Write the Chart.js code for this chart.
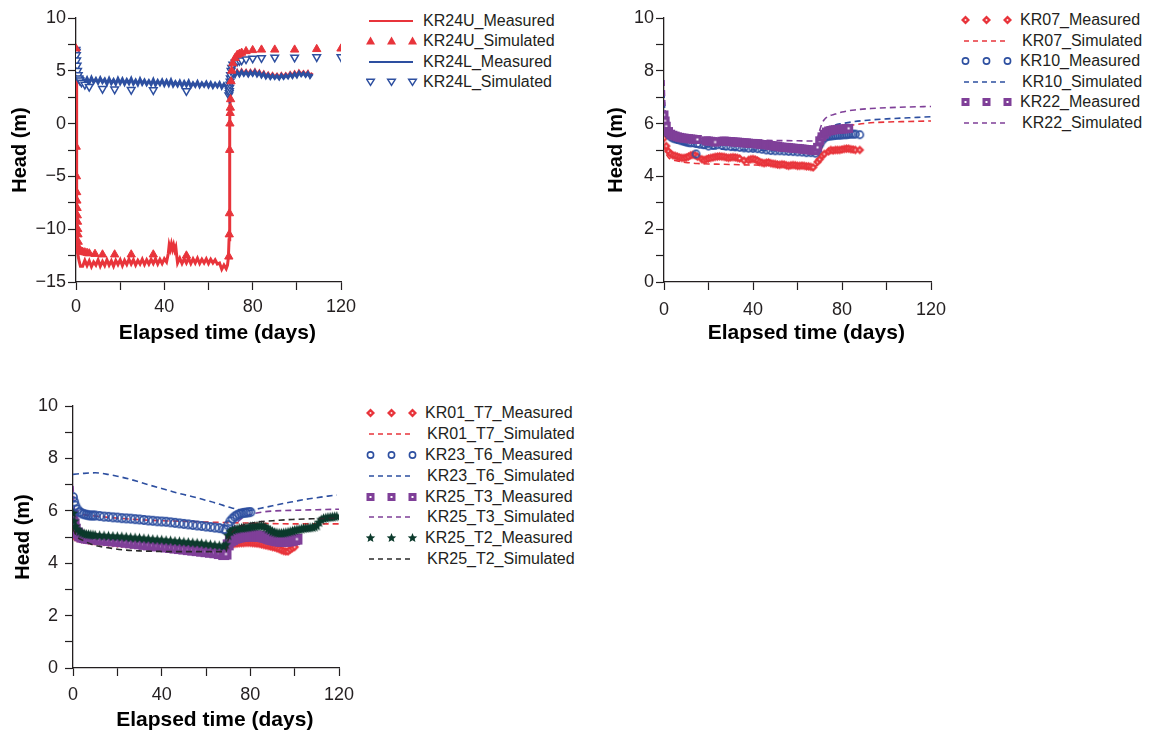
<!DOCTYPE html>
<html><head><meta charset="utf-8">
<script src="https://cdn.jsdelivr.net/npm/chart.js@4.4.1/dist/chart.umd.min.js"></script>
<style>
html,body{margin:0;padding:0;background:#fff;}
body{width:1152px;height:738px;overflow:hidden;position:relative;font-family:"Liberation Sans",Arial,sans-serif;}
canvas.ch{position:absolute;}
.row{position:absolute;height:20px;line-height:20px;white-space:nowrap;font-size:16px;color:#231f20;}
.row canvas{position:absolute;left:0;top:0;}
.row span{position:absolute;top:0;}
</style></head><body>
<canvas id="k1" class="ch" width="360" height="350" style="left:0;top:0"></canvas>
<canvas id="k2" class="ch" width="360" height="350" style="left:590px;top:0"></canvas>
<canvas id="k3" class="ch" width="360" height="350" style="left:0;top:388px"></canvas>
<div id="legends"></div>
<script>
// ---------------- DATA ----------------
const X_TITLE = 'Elapsed time (days)';
const Y_TITLE = 'Head (m)';
const xTicks = [0, 40, 80, 120];

// Panel 1 (KR24U / KR24L)
const kr24uMeasured = [[0,7.0],[0.15,6.2],[0.3,-4],[0.4,-11.0],[0.6,-12.0],[1,-12.6],[1.5,-13.1],[2,-13.5],
[3,-13.5],[4,-12.95],[5,-13.45],[6,-13.0],[7,-13.55],[8,-13.1],[9,-13.4],[10,-12.9],[11,-13.5],[12,-13.05],[13,-13.45],[14,-12.9],[15,-13.4],[16,-13.0],[17,-13.5],[18,-12.95],[19,-13.35],[20,-12.9],[21,-13.45],[22,-12.95],[23,-13.35],[24,-12.85],[25,-13.3],[26,-12.9],[27,-13.4],[28,-12.95],[29,-13.3],[30,-12.85],[31,-13.35],[32,-12.9],[33,-13.3],[34,-12.85],[35,-13.25],[36,-12.8],[37,-13.3],[38,-12.85],[39,-13.25],[40,-12.8],[41,-13.1],
[41.8,-12.3],[42.2,-11.5],[42.7,-11.9],[43.2,-11.4],[43.7,-11.9],[44.2,-11.5],[44.7,-12.0],[45.2,-11.7],[45.6,-12.5],
[46,-13.2],[47,-12.75],[48,-13.25],[49,-12.8],[50,-13.2],[51,-12.75],[52,-13.25],[53,-12.8],[54,-13.2],[55,-12.75],[56,-13.25],[57,-12.85],[58,-13.2],[59,-12.8],[60,-13.25],[61,-12.85],[62,-13.2],[63,-12.9],[64,-13.3],[65,-13.2],[66,-13.8],[67,-13.4],[68,-13.75],[68.6,-13.4],[69.0,-12.7],[69.3,-11.0],[69.5,-6],[69.7,0],[69.9,3.5],[70.2,4.7],
[71,5.0],[72,4.6],[73,5.0],[74,4.65],[75,5.05],[76,4.7],[77,5.0],[78,4.65],[79,5.0],[80,4.7],[81,5.05],[82,4.65],[83,4.95],[84,4.55],[85,4.85],[86,4.45],[87,4.75],[88,4.4],[89,4.7],[90,4.4],[91,4.65],[92,4.35],[93,4.7],[94,4.4],[95,4.7],[96,4.45],[97,4.8],[98,4.5],[99,4.85],[100,4.55],[101,4.95],[102,4.65],[103,4.9],[104,4.6],[105,4.9],[106,4.5],[107,4.8]];

const kr24uSimulated = [[0,7.1],[0.1,-2.2],[0.2,-5],[0.3,-6.5],[0.4,-7.3],[0.5,-8],[0.6,-8.7],[0.7,-9.3],[0.8,-10],[0.9,-10.5],[1.0,-11.2],[1.3,-11.8],[1.7,-12.0],[2.2,-12.1],[3,-12.15],[4,-12.2],[5,-12.25],[6,-12.3],[8.6,-12.35],[12,-12.4],[17.5,-12.4],[25,-12.4],[35,-12.4],[50,-12.5],[69.2,-12.6],[69.4,-10.5],[69.5,-8.5],[69.6,-2.5],[69.7,0],[69.8,1.0],[69.9,1.5],[70.0,2.3],[70.2,4.0],[70.5,5.0],[71,5.7],[72,6.2],[73,6.5],[74,6.6],[75,6.7],[77,6.85],[80,6.95],[84,7.0],[90,7.0],[99,7.0],[109,7.05],[120,7.1]];

const kr24lMeasured = [[0,7.0],[0.2,6.9],[0.4,6.5],[0.6,5.8],[0.8,5.3],[1,5.0],[1.5,4.6],[2,4.3],
[3,4.35],[4,3.9],[5,4.3],[6,3.85],[7,4.35],[8,3.9],[9,4.25],[10,3.85],[11,4.3],[12,3.9],[13,4.2],[14,3.75],[15,4.25],[16,3.8],[17,4.15],[18,3.75],[19,4.25],[20,3.8],[21,4.2],[22,3.75],[23,4.15],[24,3.8],[25,4.25],[26,3.75],[27,4.1],[28,3.7],[29,4.2],[30,3.75],[31,4.1],[32,3.7],[33,4.05],[34,3.7],[35,4.15],[36,3.65],[37,4.05],[38,3.7],[39,4.1],[40,3.65],[41,4.05],[42,3.65],[43,4.1],[44,3.6],[45,3.95],[46,3.6],[47,4.0],[48,3.55],[49,3.95],[50,3.6],[51,4.0],[52,3.5],[53,3.85],[54,3.55],[55,3.95],[56,3.5],[57,3.85],[58,3.55],[59,3.9],[60,3.5],[61,3.85],[62,3.45],[63,3.8],[64,3.5],[65,3.85],[66,3.4],[67,3.75],[68,3.45],[68.8,3.1],[69.2,2.6],[69.5,2.3],[69.8,3.0],[70,3.9],[70.3,4.4],
[71,4.8],[72,4.5],[73,4.9],[74,4.55],[75,4.95],[76,4.6],[77,4.9],[78,4.55],[79,4.9],[80,4.6],[81,4.95],[82,4.55],[83,4.85],[84,4.45],[85,4.75],[86,4.35],[87,4.65],[88,4.3],[89,4.6],[90,4.3],[91,4.55],[92,4.25],[93,4.6],[94,4.3],[95,4.6],[96,4.35],[97,4.7],[98,4.4],[99,4.75],[100,4.45],[101,4.85],[102,4.55],[103,4.8],[104,4.5],[105,4.8],[106,4.4],[107,4.7]];

const kr24lSimulated = [[0,7.0],[0.1,6.8],[0.2,6.5],[0.3,6.0],[0.5,5.5],[0.7,5.0],[1.0,4.6],[1.3,4.3],[1.7,4.1],[2.5,3.9],[4,3.7],[6,3.5],[12,3.3],[17.5,3.25],[25,3.2],[35,3.18],[50,3.1],[69.2,2.7],[69.4,2.9],[69.5,3.1],[69.6,3.4],[69.7,3.7],[69.8,4.0],[69.9,4.3],[70.0,4.6],[70.2,5.0],[70.5,5.3],[71,5.6],[72,5.8],[73,5.9],[74,5.95],[75,6.0],[77,6.1],[80,6.18],[84,6.22],[90,6.27],[99,6.27],[109,6.3],[120,6.3]];

// Panel 2 (KR07 / KR10 / KR22)
const kr07Measured = [[0,5.45],[1,5.15],[2,4.95],[3,4.85],[4,4.8],[5,4.78],[6,4.75],[7,4.72],[8,4.7],[9,4.7],[10,4.72],[11,4.75],[12,4.8],[13,4.82],[14,4.8],[15,4.75],[17,4.65],[18,4.62],[19,4.65],[20,4.68],[21,4.7],[22,4.72],[23,4.74],[24,4.75],[25,4.76],[26,4.75],[27,4.74],[28,4.72],[29,4.7],[30,4.72],[31,4.73],[32,4.72],[33,4.7],[34,4.68],[36,4.6],[38,4.62],[39,4.65],[40,4.66],[41,4.64],[42,4.6],[43,4.55],[44,4.52],[45,4.5],[46,4.52],[47,4.53],[48,4.5],[49,4.48],[50,4.47],[51,4.45],[52,4.44],[53,4.46],[54,4.45],[55,4.42],[56,4.4],[57,4.42],[58,4.43],[59,4.42],[60,4.4],[61,4.4],[62,4.41],[63,4.4],[64,4.38],[65,4.38],[66,4.36],[67,4.34],[69,4.55],[70,4.65],[71,4.78],[72,4.85],[74,4.95],[75,5.0],[76,4.98],[77,5.0],[78,5.0],[79,5.0],[80,5.02],[81,5.04],[82,5.05],[83,5.05],[84,5.03],[85,5.02],[86,5.0],[88,5.0]];
const kr07Simulated = [[0,5.2],[0.5,5.0],[1,4.85],[2,4.72],[3,4.65],[5,4.6],[8,4.55],[11,4.52],[15,4.49],[20,4.47],[26,4.46],[35,4.44],[41,4.43],[50,4.42],[60,4.4],[65,4.39],[68,4.39],[69,4.45],[70,4.7],[71,5.1],[72,5.4],[73.6,5.63],[76,5.78],[80,5.88],[85,5.95],[93,6.03],[100,6.06],[110,6.08],[120,6.1]];
const kr10Measured = [[0,6.15],[0.5,6.0],[1,5.76],[2,5.6],[3,5.5],[4,5.45],[5,5.42],[6,5.4],[7,5.38],[8,5.35],[9,5.33],[10,5.3],[11,5.28],[12,5.27],[14.4,4.85],[15,5.25],[16,5.22],[18,5.2],[19.8,5.25],[20,5.15],[22,5.18],[24,5.2],[26,5.18],[28,5.15],[30,5.13],[32,5.12],[34,5.1],[36,5.08],[38,5.07],[40,5.06],[42,5.05],[44,5.03],[46,5.0],[48,4.98],[50,4.97],[52,4.97],[54,4.96],[56,4.95],[58,4.94],[60,4.93],[62,4.92],[64,4.9],[66,4.9],[68,4.88],[69,5.0],[70,5.2],[71,5.35],[72,5.45],[73,5.5],[74,5.52],[75,5.53],[76,5.54],[77,5.55],[78,5.56],[79,5.56],[80,5.57],[81,5.58],[82,5.58],[83,5.59],[84,5.6],[85,5.6],[86,5.6],[88,5.58]];
const kr10Simulated = [[0,7.2],[0.3,6.6],[0.6,6.1],[1,5.8],[2,5.55],[3,5.42],[5,5.3],[8,5.22],[11,5.18],[15,5.1],[20,5.06],[26,5.03],[35,5.0],[41,5.0],[50,4.97],[60,4.95],[65,4.94],[68,4.93],[69,5.0],[70,5.3],[71,5.55],[72,5.7],[74,5.83],[77,5.95],[80,6.0],[85,6.07],[93,6.14],[100,6.18],[110,6.22],[120,6.26]];
const kr22Measured = [[0,6.33],[0.5,6.1],[1,5.9],[2,5.7],[3,5.6],[4,5.56],[5,5.53],[6,5.5],[7,5.48],[8,5.46],[9,5.45],[10,5.44],[11,5.43],[12,5.42],[13,5.41],[14,5.4],[15,5.4],[19,5.35],[20,5.34],[21,5.33],[22,5.32],[23,5.3],[26,5.33],[27,5.34],[28,5.33],[29,5.32],[30,5.32],[31,5.31],[32,5.3],[33,5.3],[34,5.29],[35,5.28],[36,5.27],[37,5.27],[38,5.26],[39,5.25],[40,5.25],[41,5.24],[42,5.23],[43,5.22],[44,5.21],[45,5.2],[46,5.2],[47,5.19],[48,5.17],[49,5.16],[50,5.15],[51,5.14],[52,5.12],[53,5.11],[54,5.1],[55,5.1],[56,5.09],[57,5.08],[58,5.07],[59,5.06],[60,5.06],[61,5.05],[62,5.04],[63,5.03],[64,5.02],[65,5.01],[66,5.0],[67,4.99],[68,4.98],[69,5.1],[70,5.35],[71,5.5],[72,5.6],[73,5.68],[74,5.72],[75,5.74],[76,5.76],[77,5.77],[78,5.78],[79,5.79],[80,5.8],[81,5.8],[82,5.81],[83,5.82]];
const kr22Simulated = [[0,7.65],[0.3,6.9],[0.6,6.3],[1,6.0],[2,5.8],[3,5.7],[5,5.6],[8,5.52],[11,5.47],[15,5.44],[20,5.42],[30,5.4],[41,5.38],[50,5.36],[60,5.35],[65,5.34],[68,5.34],[69,5.45],[70,5.75],[71,6.0],[72,6.15],[74,6.28],[77,6.36],[80,6.44],[86,6.52],[93,6.57],[100,6.6],[110,6.63],[120,6.65]];

// Panel 3 (KR01_T7 / KR23_T6 / KR25_T3 / KR25_T2)
const kr01t7Measured = [[0,5.05],[1,5.0],[2,4.97],[3,4.95],[4,4.93],[5,4.92],[6,4.9],[7,4.88],[8,4.87],[9,4.86],[10,4.85],[12,4.83],[14,4.82],[16,4.8],[18,4.78],[20,4.76],[22,4.75],[24,4.74],[26,4.73],[28,4.72],[30,4.71],[32,4.7],[34,4.69],[36,4.68],[38,4.67],[40,4.66],[42,4.65],[44,4.64],[46,4.63],[48,4.62],[50,4.61],[52,4.6],[54,4.59],[56,4.58],[58,4.57],[60,4.56],[62,4.55],[64,4.54],[66,4.52],[68,4.5],[69,4.55],[70,4.62],[71,4.68],[72,4.72],[73,4.74],[74,4.75],[75,4.76],[76,4.77],[77,4.77],[78,4.78],[79,4.78],[80,4.78],[81,4.77],[82,4.76],[83,4.75],[84,4.74],[85,4.72],[86,4.7],[87,4.68],[88,4.66],[89,4.64],[90,4.62],[91,4.6],[92,4.57],[93,4.54],[94,4.5],[95,4.47],[96,4.45],[97,4.45],[98,4.52],[99,4.58],[100,4.62]];
const kr01t7Simulated = [[0,5.9],[10,5.8],[20,5.72],[30,5.66],[40,5.62],[50,5.6],[60,5.57],[70,5.55],[80,5.53],[90,5.51],[100,5.5],[110,5.5],[120,5.5]];
const kr23t6Measured = [[0,6.52],[0.5,6.35],[1,6.2],[2,6.05],[3,5.95],[4,5.9],[5,5.87],[6,5.85],[7,5.83],[8,5.82],[9,5.82],[10,5.82],[12,5.8],[14,5.78],[16,5.77],[18,5.75],[20,5.74],[22,5.72],[24,5.71],[26,5.7],[28,5.68],[30,5.67],[32,5.65],[34,5.63],[36,5.62],[38,5.6],[40,5.59],[42,5.58],[44,5.56],[46,5.54],[48,5.52],[50,5.5],[52,5.48],[54,5.46],[56,5.44],[58,5.42],[60,5.4],[62,5.38],[64,5.36],[66,5.34],[68,5.3],[69,5.28],[70,5.45],[71,5.6],[72,5.7],[73,5.78],[74,5.83],[75,5.87],[76,5.9],[77,5.92],[78,5.93],[79,5.94],[80,5.95]];
const kr23t6Simulated = [[0,7.39],[5,7.43],[10,7.45],[15,7.4],[20,7.32],[25,7.22],[30,7.1],[35,6.97],[40,6.85],[45,6.73],[50,6.62],[55,6.52],[60,6.4],[65,6.28],[69,6.17],[72,6.1],[75,6.04],[78,5.99],[82,6.05],[86,6.12],[90,6.19],[95,6.28],[100,6.36],[105,6.44],[110,6.5],[115,6.56],[119,6.6]];
const kr25t3Measured = [[0,5.85],[0.5,5.5],[1,5.3],[2,5.15],[3,5.05],[4,5.0],[5,4.98],[6,4.96],[7,4.95],[8,4.94],[9,4.93],[10,4.92],[12,4.9],[14,4.88],[16,4.87],[18,4.85],[20,4.84],[22,4.82],[24,4.8],[26,4.78],[28,4.76],[30,4.74],[32,4.72],[34,4.7],[36,4.68],[38,4.66],[40,4.64],[42,4.62],[44,4.6],[46,4.58],[48,4.56],[50,4.54],[52,4.52],[54,4.5],[56,4.48],[58,4.46],[60,4.44],[62,4.42],[64,4.4],[66,4.37],[68,4.33],[69,4.35],[70,4.7],[71,4.85],[72,4.9],[73,4.95],[74,4.98],[75,5.0],[76,5.02],[77,5.03],[78,5.04],[79,5.05],[80,5.05],[81,5.05],[82,5.04],[83,5.04],[84,5.03],[85,5.02],[86,5.0],[87,4.98],[88,4.95],[89,4.92],[90,4.9],[91,4.88],[92,4.86],[93,4.85],[94,4.84],[95,4.84],[96,4.84],[97,4.85],[98,4.86],[99,4.88],[100,4.9],[101,4.92]];
const kr25t3Simulated = [[0,6.95],[0.5,6.2],[1,5.6],[2,5.2],[3,5.05],[5,4.95],[10,4.9],[20,4.82],[30,4.74],[40,4.66],[50,4.58],[60,4.5],[68,4.45],[69,4.5],[70,4.9],[72,5.3],[74,5.55],[76,5.7],[78,5.8],[82,5.9],[86,5.96],[90,5.99],[100,6.02],[110,6.04],[120,6.06]];
const kr25t2Measured = [[0,5.9],[0.5,5.6],[1,5.4],[2,5.28],[3,5.2],[4,5.15],[5,5.12],[6,5.1],[7,5.09],[8,5.08],[9,5.07],[10,5.06],[12,5.05],[14,5.04],[16,5.03],[18,5.02],[20,5.01],[22,5.0],[24,4.99],[26,4.97],[28,4.96],[30,4.95],[32,4.93],[34,4.92],[36,4.9],[38,4.89],[40,4.88],[42,4.86],[44,4.85],[46,4.83],[48,4.82],[50,4.8],[52,4.79],[54,4.77],[56,4.76],[58,4.74],[60,4.72],[62,4.7],[64,4.68],[66,4.66],[68,4.64],[69,4.7],[70,5.05],[71,5.2],[72,5.25],[73,5.28],[74,5.3],[75,5.32],[76,5.33],[77,5.34],[78,5.35],[79,5.36],[80,5.38],[81,5.39],[82,5.4],[83,5.41],[84,5.42],[85,5.42],[86,5.4],[87,5.36],[88,5.3],[89,5.25],[90,5.2],[91,5.17],[92,5.15],[93,5.14],[94,5.14],[95,5.15],[96,5.16],[97,5.18],[98,5.2],[99,5.22],[100,5.25],[101,5.27],[102,5.28],[103,5.3],[104,5.32],[105,5.33],[106,5.34],[107,5.35],[108,5.36],[109,5.38],[110,5.42],[111,5.55],[112,5.65],[113,5.7],[114,5.72],[115,5.74],[116,5.75],[117,5.76],[118,5.77],[119,5.78]];
const kr25t2Simulated = [[0,5.3],[2,5.0],[5,4.85],[9,4.7],[15,4.6],[24,4.5],[30,4.47],[39,4.45],[50,4.44],[60,4.44],[69,4.44],[70,4.9],[72,5.2],[75,5.4],[80,5.52],[84,5.58],[90,5.62],[99,5.67],[110,5.7],[120,5.72]];

// ---------------- STYLE ----------------
const FONT = '"Liberation Sans", Arial, sans-serif';
const RED = '#e8343b', BLUE = '#2d4fa0', PURPLE = '#7f3f98', GREEN = '#0c3a2c', BLACK = '#2a2a2a';
const AXIS = '#231f20';

function drawMarker(g, kind, color, cx, cy, s) {
  const r = s / 2;
  g.save();
  g.fillStyle = color; g.strokeStyle = color;
  if (kind === 'diamond') {
    g.beginPath(); g.moveTo(cx, cy - r); g.lineTo(cx + r, cy); g.lineTo(cx, cy + r); g.lineTo(cx - r, cy); g.closePath(); g.fill();
    g.fillStyle = '#fff'; g.fillRect(cx - 0.8, cy - 0.8, 1.6, 1.6);
  } else if (kind === 'square') {
    g.fillRect(cx - r, cy - r, s, s);
    g.fillStyle = '#fff'; g.fillRect(cx - 1, cy - 1, 2, 2);
  } else if (kind === 'circle') {
    g.lineWidth = 1.6; g.beginPath(); g.arc(cx, cy, r - 0.9, 0, Math.PI * 2); g.stroke();
  } else if (kind === 'star') {
    g.beginPath();
    for (let i = 0; i < 10; i++) {
      const a = -Math.PI / 2 + i * Math.PI / 5;
      const rr = i % 2 === 0 ? r : r * 0.45;
      const px = cx + rr * Math.cos(a), py = cy + rr * Math.sin(a);
      if (i === 0) g.moveTo(px, py); else g.lineTo(px, py);
    }
    g.closePath(); g.fill();
  } else if (kind === 'triUp') {
    g.beginPath(); g.moveTo(cx, cy - r); g.lineTo(cx + r, cy + r * 0.75); g.lineTo(cx - r, cy + r * 0.75); g.closePath(); g.fill();
  } else if (kind === 'triDown') {
    g.lineWidth = 1.5; g.fillStyle = '#fff';
    g.beginPath(); g.moveTo(cx - r + 0.7, cy - r * 0.6); g.lineTo(cx + r - 0.7, cy - r * 0.6); g.lineTo(cx, cy + r * 0.75); g.closePath(); g.fill(); g.stroke();
  }
  g.restore();
}
function markerCanvas(kind, color, s) {
  const c = document.createElement('canvas');
  c.width = s + 2; c.height = s + 2;
  drawMarker(c.getContext('2d'), kind, color, (s + 2) / 2, (s + 2) / 2, s);
  return c;
}
const pts = a => a.map(([x, y]) => ({x, y}));
const fmt = v => v < 0 ? '\u2212' + Math.abs(v) : String(v);

function lineDS(data, color, order) {
  return {data: pts(data), borderColor: color, borderWidth: 3, pointRadius: 0, tension: 0, order};
}
function dashDS(data, color, order) {
  return {data: pts(data), borderColor: color, borderWidth: 1.6, borderDash: [6, 4], pointRadius: 0,
          cubicInterpolationMode: 'monotone', order};
}
function markDS(data, img, order) {
  return {data: pts(data), showLine: false, pointStyle: img, pointRadius: 4, order};
}

function options(c) {
  return {
    responsive: false, animation: false, events: [],
    layout: {autoPadding: false, padding: {top: 18, right: c.padR, left: 0, bottom: 0}},
    plugins: {legend: {display: false}, tooltip: {enabled: false}},
    scales: {
      x: {
        type: 'linear', min: 0, max: 120,
        ticks: {stepSize: 20, autoSkip: false, maxRotation: 0, minRotation: 0, padding: c.xTickPad, color: AXIS,
                font: {family: FONT, size: 18}, callback: v => xTicks.includes(v) ? String(v) : ''},
        grid: {drawOnChartArea: false, drawTicks: true, tickLength: 8, tickColor: AXIS, tickWidth: 1.2},
        border: {display: true, color: AXIS, width: 1.3},
        title: {display: true, text: c.xTitle, color: '#000', font: {family: FONT, size: 21, weight: 'bold'},
                padding: {top: 0, bottom: c.xTitlePad}},
        afterFit: s => { s.height = c.xH; s.paddingLeft = 0; s.paddingRight = 0; }
      },
      y: {
        type: 'linear', min: c.ymin, max: c.ymax,
        ticks: {stepSize: c.ystep, autoSkip: false, padding: c.yTickPad, color: AXIS, font: {family: FONT, size: 18},
                callback: v => (Math.abs(v / c.ymajor - Math.round(v / c.ymajor)) < 1e-6) ? fmt(v) : ''},
        grid: {drawOnChartArea: false, drawTicks: true, tickLength: 8, tickColor: AXIS, tickWidth: 1.2},
        border: {display: true, color: AXIS, width: 1.3},
        title: {display: true, text: Y_TITLE, color: '#000', font: {family: FONT, size: 20, weight: 'bold'},
                padding: {top: c.yTitlePad, bottom: 0}},
        afterFit: s => { s.width = c.yW; s.paddingTop = 0; s.paddingBottom = 0; }
      }
    }
  };
}

const XT = '   ' + X_TITLE;

// Panel 1
new Chart(document.getElementById('k1'), {
  type: 'line',
  data: {datasets: [
    {data: pts(kr24uSimulated), showLine: false, pointStyle: 'triangle', pointRadius: 4.8, backgroundColor: RED, borderColor: RED, borderWidth: 1, order: 0},
    {data: pts(kr24lSimulated), showLine: false, pointStyle: 'triangle', rotation: 180, pointRotation: 180, pointRadius: 4.4, backgroundColor: '#fff', borderColor: BLUE, borderWidth: 1.5, order: 1},
    lineDS(kr24lMeasured, BLUE, 2),
    lineDS(kr24uMeasured, RED, 3)
  ]},
  options: options({padR: 19, xH: 68, yW: 76, ymin: -15, ymax: 10, ystep: 2.5, ymajor: 5, xTickPad: 6, yTickPad: 2, xTitlePad: 4, yTitlePad: 8, xTitle: XT})
});

// Panel 2
const imgDiamond = markerCanvas('diamond', RED, 9);
const imgCircle = markerCanvas('circle', BLUE, 9);
const imgSquare = markerCanvas('square', PURPLE, 9);
new Chart(document.getElementById('k2'), {
  type: 'line',
  data: {datasets: [
    markDS(kr22Measured, imgSquare, 0),
    markDS(kr10Measured, imgCircle, 1),
    markDS(kr07Measured, imgDiamond, 2),
    dashDS(kr22Simulated, PURPLE, 3),
    dashDS(kr10Simulated, BLUE, 4),
    dashDS(kr07Simulated, RED, 5)
  ]},
  options: options({padR: 19, xH: 68, yW: 74, ymin: 0, ymax: 10, ystep: 1, ymajor: 2, xTickPad: 9, yTickPad: 2, xTitlePad: 4, yTitlePad: 14, xTitle: XT})
});

// Panel 3
const imgDiamond3 = markerCanvas('diamond', RED, 9);
const imgCircle3 = markerCanvas('circle', BLUE, 10);
const imgSquare3 = markerCanvas('square', PURPLE, 11);
const imgStar3 = markerCanvas('star', GREEN, 11);
new Chart(document.getElementById('k3'), {
  type: 'line',
  data: {datasets: [
    dashDS(kr25t2Simulated, BLACK, 0),
    markDS(kr25t2Measured, imgStar3, 1),
    markDS(kr23t6Measured, imgCircle3, 2),
    markDS(kr25t3Measured, imgSquare3, 3),
    markDS(kr01t7Measured, imgDiamond3, 4),
    dashDS(kr25t3Simulated, PURPLE, 5),
    dashDS(kr23t6Simulated, BLUE, 6),
    dashDS(kr01t7Simulated, RED, 7)
  ]},
  options: options({padR: 21, xH: 70, yW: 73, ymin: 0, ymax: 10, ystep: 1, ymajor: 2, xTickPad: 8, yTickPad: 7, xTitlePad: 5, yTitlePad: 11, xTitle: XT})
});

// ---------------- LEGENDS ----------------
const legends = [
  {left: 366, textX: 423, top: 20.7, step: 20.5, items: [
    {label: 'KR24U_Measured', kind: 'line', color: RED},
    {label: 'KR24U_Simulated', kind: 'triUp', color: RED},
    {label: 'KR24L_Measured', kind: 'line', color: BLUE},
    {label: 'KR24L_Simulated', kind: 'triDown', color: BLUE}]},
  {left: 961, textX: 1020, top: 20, step: 20.6, items: [
    {label: 'KR07_Measured', kind: 'diamond', color: RED},
    {label: 'KR07_Simulated', kind: 'dash', color: RED},
    {label: 'KR10_Measured', kind: 'circle', color: BLUE},
    {label: 'KR10_Simulated', kind: 'dash', color: BLUE},
    {label: 'KR22_Measured', kind: 'square', color: PURPLE},
    {label: 'KR22_Simulated', kind: 'dash', color: PURPLE}]},
  {left: 366, textX: 425, top: 413.3, step: 20.8, items: [
    {label: 'KR01_T7_Measured', kind: 'diamond', color: RED},
    {label: 'KR01_T7_Simulated', kind: 'dash', color: RED},
    {label: 'KR23_T6_Measured', kind: 'circle', color: BLUE},
    {label: 'KR23_T6_Simulated', kind: 'dash', color: BLUE},
    {label: 'KR25_T3_Measured', kind: 'square', color: PURPLE},
    {label: 'KR25_T3_Simulated', kind: 'dash', color: PURPLE},
    {label: 'KR25_T2_Measured', kind: 'star', color: GREEN},
    {label: 'KR25_T2_Simulated', kind: 'dash', color: BLACK}]}
];
const host = document.getElementById('legends');
legends.forEach(L => {
  L.items.forEach((it, i) => {
    const row = document.createElement('div');
    row.className = 'row';
    const yc = L.top + i * L.step;
    row.style.left = L.left + 'px';
    row.style.top = (yc - 10) + 'px';
    const cv = document.createElement('canvas');
    cv.width = 52; cv.height = 20;
    const g = cv.getContext('2d');
    if (it.kind === 'line' || it.kind === 'dash') {
      g.strokeStyle = it.color; g.lineWidth = it.kind === 'line' ? 2 : 1.6;
      if (it.kind === 'dash') g.setLineDash([5, 4]);
      g.beginPath(); g.moveTo(3, 10); g.lineTo(47, 10); g.stroke();
    } else {
      const s = it.kind === 'star' ? 10 : (it.kind === 'triUp' || it.kind === 'triDown') ? 9 : it.kind === 'diamond' ? 9 : 8;
      [4.5, 25.5, 46.5].forEach(x => drawMarker(g, it.kind, it.color, x, 10, s));
    }
    row.appendChild(cv);
    const sp = document.createElement('span');
    sp.textContent = it.label;
    const extra = it.kind === 'dash' ? 2 : 0;
    sp.style.left = (L.textX - L.left + extra) + 'px';
    row.appendChild(sp);
    host.appendChild(row);
  });
});
</script>
</body></html>
